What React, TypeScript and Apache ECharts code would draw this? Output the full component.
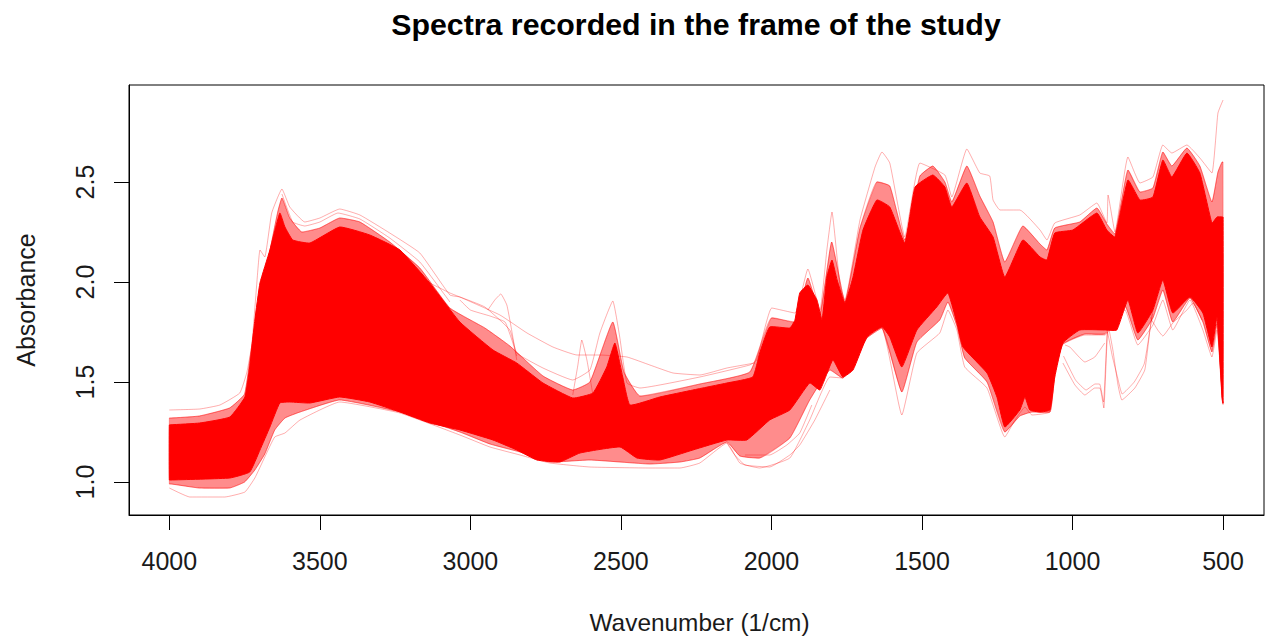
import React, { useEffect, useRef } from "react";
import * as echarts from "echarts";

const xTicks = [4000, 3500, 3000, 2500, 2000, 1500, 1000, 500];
const yTicks = [1.0, 1.5, 2.0, 2.5];

// Solid core of the overlaid spectra: [wavenumber, absorbance]
const denseUpper = [[4000,1.285],[3995,1.286],[3899,1.295],[3799,1.325],[3749,1.425],[3733,1.575],[3716,1.81],[3699,1.995],[3666,2.16],[3633,2.345],[3616,2.275],[3590,2.21],[3533,2.195],[3434,2.275],[3334,2.235],[3234,2.16],[3135,1.995],[3035,1.80],[2925,1.66],[2846,1.595],[2759,1.495],[2660,1.42],[2593,1.445],[2547,1.575],[2520,1.695],[2494,1.525],[2470,1.385],[2371,1.425],[2261,1.46],[2148,1.495],[2062,1.525],[2039,1.645],[2006,1.775],[1939,1.77],[1922,1.81],[1906,1.945],[1879,1.985],[1849,1.91],[1832,1.81],[1816,2.025],[1799,2.11],[1782,2.01],[1756,1.895],[1729,2.025],[1696,2.26],[1650,2.41],[1607,2.375],[1557,2.195],[1523,2.475],[1464,2.535],[1424,2.475],[1401,2.375],[1351,2.495],[1308,2.325],[1264,2.225],[1225,2.025],[1165,2.21],[1108,2.125],[1085,2.11],[1059,2.245],[999,2.26],[919,2.345],[886,2.26],[859,2.225],[816,2.51],[776,2.41],[733,2.425],[700,2.61],[670,2.525],[620,2.645],[577,2.545],[537,2.295],[520,2.325],[503,2.325],[500,2.325]];
const denseLower = [[4000,1.01],[3995,1.01],[3799,1.02],[3733,1.05],[3699,1.16],[3666,1.275],[3633,1.395],[3600,1.40],[3533,1.395],[3434,1.425],[3334,1.40],[3234,1.35],[3135,1.295],[3035,1.26],[2925,1.21],[2846,1.16],[2779,1.11],[2703,1.10],[2636,1.145],[2503,1.175],[2447,1.12],[2371,1.11],[2261,1.16],[2148,1.21],[2082,1.21],[2006,1.31],[1939,1.36],[1873,1.495],[1839,1.46],[1796,1.61],[1763,1.525],[1729,1.56],[1683,1.725],[1633,1.775],[1607,1.725],[1567,1.575],[1517,1.76],[1451,1.875],[1414,1.945],[1384,1.795],[1364,1.675],[1284,1.545],[1251,1.425],[1225,1.275],[1175,1.36],[1158,1.425],[1142,1.36],[1108,1.35],[1075,1.36],[1059,1.525],[1032,1.695],[976,1.76],[893,1.76],[853,1.76],[816,1.91],[783,1.745],[733,1.86],[700,2.01],[667,1.845],[610,1.925],[567,1.845],[537,1.675],[520,1.825],[503,1.42],[500,1.395]];

// Individual faint spectra
const outerUpper = [[4000,1.36],[3899,1.365],[3832,1.385],[3766,1.445],[3743,1.545],[3726,1.685],[3706,2.06],[3699,2.16],[3683,2.125],[3660,2.345],[3626,2.465],[3600,2.375],[3550,2.30],[3500,2.32],[3434,2.365],[3367,2.335],[3268,2.245],[3168,2.145],[3068,1.935],[3035,1.925],[2952,1.875],[2869,1.76],[2846,1.645],[2759,1.57],[2660,1.51],[2603,1.56],[2570,1.745],[2527,1.905],[2504,1.725],[2480,1.495],[2437,1.47],[2238,1.525],[2072,1.585],[2049,1.61],[1999,1.87],[1922,1.845],[1879,2.065],[1839,1.86],[1816,2.16],[1799,2.35],[1772,1.975],[1756,1.91],[1706,2.31],[1656,2.575],[1633,2.65],[1607,2.595],[1557,2.225],[1507,2.595],[1424,2.535],[1401,2.425],[1351,2.665],[1308,2.545],[1275,2.53],[1264,2.41],[1241,2.36],[1175,2.36],[1108,2.26],[1085,2.21],[1059,2.295],[976,2.335],[919,2.395],[886,2.295],[882,2.435],[859,2.25],[816,2.625],[776,2.495],[733,2.525],[700,2.685],[670,2.645],[620,2.685],[577,2.62],[537,2.545],[517,2.845],[500,2.91]];
const outerLower = [[4000,0.97],[3932,0.925],[3816,0.925],[3749,0.95],[3716,1.02],[3683,1.125],[3650,1.225],[3616,1.245],[3566,1.31],[3434,1.40],[3234,1.345],[3035,1.235],[2935,1.175],[2835,1.135],[2736,1.095],[2603,1.075],[2404,1.07],[2304,1.07],[2238,1.095],[2148,1.195],[2105,1.095],[2039,1.07],[1939,1.12],[1873,1.31],[1806,1.525],[1763,1.52],[1683,1.72],[1633,1.77],[1567,1.335],[1517,1.645],[1441,1.745],[1414,1.86],[1384,1.76],[1358,1.575],[1284,1.47],[1225,1.225],[1191,1.31],[1158,1.375],[1135,1.335],[1075,1.35],[1059,1.525],[1035,1.685],[959,1.735],[893,1.735],[826,1.86],[783,1.685],[733,1.785],[700,1.91],[667,1.76],[610,1.91],[567,1.76],[537,1.625],[520,1.76],[500,1.385]];
const upperMid = [[4000,1.32],[3995,1.32],[3900,1.33],[3800,1.37],[3750,1.44],[3720,1.75],[3680,2.05],[3640,2.35],[3626,2.42],[3600,2.32],[3560,2.25],[3500,2.27],[3434,2.32],[3367,2.30],[3268,2.2],[3168,2.07],[3068,1.87],[2952,1.77],[2869,1.68],[2759,1.53],[2660,1.46],[2603,1.5],[2527,1.8],[2490,1.55],[2437,1.43],[2238,1.49],[2072,1.55],[2000,1.82],[1922,1.8],[1879,2.02],[1839,1.84],[1800,2.2],[1756,1.9],[1706,2.27],[1650,2.5],[1607,2.48],[1557,2.21],[1507,2.53],[1464,2.58],[1424,2.5],[1401,2.4],[1351,2.58],[1308,2.43],[1264,2.3],[1225,2.1],[1165,2.28],[1108,2.19],[1085,2.16],[1059,2.27],[976,2.3],[919,2.37],[886,2.29],[859,2.24],[816,2.56],[776,2.45],[733,2.47],[700,2.65],[670,2.58],[620,2.67],[577,2.58],[537,2.4],[517,2.55],[503,2.6],[500,2.6]];
const lowerMid = [[4000,0.99],[3995,0.99],[3900,0.97],[3800,0.97],[3750,1.0],[3716,1.06],[3683,1.14],[3650,1.26],[3616,1.32],[3566,1.35],[3434,1.41],[3234,1.35],[3035,1.25],[2935,1.19],[2835,1.15],[2736,1.10],[2603,1.11],[2404,1.09],[2304,1.10],[2238,1.12],[2148,1.2],[2105,1.13],[2039,1.12],[1939,1.22],[1873,1.41],[1806,1.56],[1763,1.52],[1683,1.72],[1633,1.77],[1567,1.45],[1517,1.7],[1441,1.81],[1414,1.9],[1384,1.78],[1358,1.62],[1284,1.5],[1225,1.25],[1175,1.33],[1135,1.35],[1075,1.35],[1059,1.55],[1032,1.69],[959,1.74],[893,1.74],[826,1.88],[783,1.71],[733,1.82],[700,1.96],[667,1.8],[610,1.92],[567,1.8],[537,1.65],[520,1.79],[503,1.41],[500,1.39]];
const smoothTail = [[3135,1.995],[3068,1.945],[3035,1.925],[2902,1.835],[2812,1.745],[2726,1.675],[2646,1.635],[2570,1.635],[2480,1.625],[2404,1.585],[2327,1.545],[2238,1.535],[2148,1.57],[2055,1.595]];
const peak2650 = [[2660,1.435],[2643,1.585],[2630,1.71],[2613,1.61],[2593,1.435]];
const peak2900 = [[2942,1.86],[2919,1.91],[2899,1.94],[2879,1.885],[2866,1.785],[2846,1.61]];
const lowDipA = [[1032,1.595],[992,1.485],[959,1.435],[926,1.47],[909,1.47],[896,1.37],[882,1.785],[866,1.66],[849,1.485],[836,1.41],[793,1.47],[760,1.56],[743,1.76],[733,1.86]];
const lowDipB = [[1030,1.63],[990,1.51],[955,1.46],[925,1.49],[910,1.49],[897,1.40],[884,1.75],[868,1.63],[850,1.52],[835,1.44],[795,1.50],[762,1.59],[745,1.74],[735,1.84]];
const lowArc = [[1025,1.685],[1009,1.675],[959,1.60],[926,1.625],[893,1.695]];
const lateDip = [[743,1.825],[717,1.76],[700,1.73],[667,1.795],[620,1.86],[600,1.895],[570,1.81]];
const humpSecond = [[3626,2.44],[3590,2.3],[3550,2.28],[3500,2.30],[3440,2.345],[3367,2.315],[3268,2.22],[3168,2.10],[3068,1.90]];
const tailSecond = [[3035,1.91],[3000,1.86],[2935,1.83],[2885,1.80],[2860,1.70],[2846,1.63]];
const lowerSecond = [[2148,1.195],[2122,1.135],[2088,1.085],[2006,1.075],[1939,1.135],[1906,1.185],[1856,1.31],[1806,1.46]];
const lowerThird = [[2088,1.135],[2006,1.135],[1949,1.185],[1906,1.245],[1866,1.385]];

const faintLines = [outerUpper, outerLower, upperMid, lowerMid, smoothTail, peak2650, peak2900, lowDipA, lowDipB, lowArc, lateDip, humpSecond, tailSecond, lowerSecond, lowerThird];
const bandOutline = [...denseUpper, ...[...denseLower].reverse()];
const fringeOutline = [...upperMid, ...[...lowerMid].reverse()];

const TEXT = "#1a1a1a";
const FONT = "'Liberation Sans', Arial, sans-serif";

export default function App() {
  const ref = useRef<HTMLDivElement>(null);
  useEffect(() => {
    const chart = echarts.init(ref.current!, null, { renderer: "svg" });
    const polygonSeries = (outline: number[][], fill: string, stroke: string) => ({
      type: "custom", silent: true, clip: true, coordinateSystem: "cartesian2d",
      data: outline,
      encode: { x: 0, y: 1 },
      renderItem: (params: any, api: any) => {
        if (params.dataIndex !== 0) return null;
        return {
          type: "polygon",
          shape: { points: outline.map((p) => api.coord(p)), smooth: 0.12 },
          style: { fill, stroke, lineWidth: 1 },
        };
      },
    });
    chart.setOption({
      animation: false,
      backgroundColor: "#ffffff",
      title: {
        text: "Spectra recorded in the frame of the study",
        left: 691, top: 4, textAlign: "center",
        textStyle: { fontFamily: FONT, fontSize: 30.3, fontWeight: "bold", color: "#000" },
      },
      grid: { left: 129, top: 85, width: 1135, height: 430, show: true, borderColor: "#000", borderWidth: 1, backgroundColor: "transparent", outerBoundsMode: "none" },
      xAxis: {
        type: "value", inverse: true, min: 364, max: 4134,
        name: "Wavenumber (1/cm)", nameLocation: "middle", nameGap: 95,
        nameTextStyle: { fontFamily: FONT, fontSize: 24.4, color: TEXT, padding: [0, 0, 0, 6] },
        axisLine: { show: true, onZero: false, lineStyle: { color: "#000" } },
        axisTick: { show: true, length: 15, customValues: xTicks, lineStyle: { color: "#000" } },
        axisLabel: { customValues: xTicks, margin: 33, fontFamily: FONT, fontSize: 25, color: TEXT, formatter: (v: number) => String(v) },
        splitLine: { show: false },
      },
      yAxis: {
        type: "value", min: 0.835, max: 2.985,
        name: "Absorbance", nameLocation: "middle", nameGap: 91,
        nameTextStyle: { fontFamily: FONT, fontSize: 25, color: TEXT },
        axisLine: { show: true, onZero: false, lineStyle: { color: "#000" } },
        axisTick: { show: true, length: 15, customValues: yTicks, lineStyle: { color: "#000" } },
        axisLabel: {
          customValues: yTicks, rotate: 90, margin: 44, fontFamily: FONT, fontSize: 25, color: TEXT,
          align: "center", verticalAlign: "middle",
          formatter: (v: number) => v.toFixed(1),
        },
        splitLine: { show: false },
      },
      series: [
        polygonSeries(fringeOutline, "rgba(255,0,0,0.45)", "rgba(255,0,0,0.3)"),
        polygonSeries(bandOutline, "#ff0000", "#ff0000"),
        ...faintLines.map((d) => ({
          type: "line", data: d, symbol: "none", silent: true, clip: true, smooth: 0.12,
          lineStyle: { color: "rgba(255,0,0,0.32)", width: 1 },
        })),
      ],
    });
    return () => chart.dispose();
  }, []);
  return <div ref={ref} style={{ position: "absolute", left: 0, top: 0, width: 1265, height: 637 }} />;
}
